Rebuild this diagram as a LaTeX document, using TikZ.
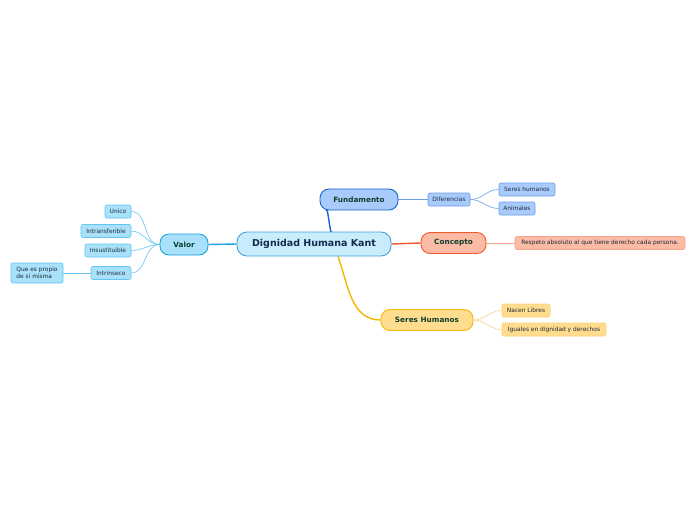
\documentclass[tikz,border=0pt]{standalone}
\usepackage{fontspec}
\setmainfont{DejaVu Sans}
\usetikzlibrary{calc,backgrounds}
\definecolor{cenfill}{HTML}{C8ECFC}
\definecolor{cendraw}{HTML}{3FA3DC}
\definecolor{centext}{HTML}{16294F}
\definecolor{maintext}{HTML}{0E3F2C}
\definecolor{leaftext}{HTML}{1E2A3A}
\definecolor{ffill}{HTML}{A8CBFB}
\definecolor{fdraw}{HTML}{1464D6}
\definecolor{flight}{HTML}{6A9DE6}
\definecolor{cfill}{HTML}{FBBBA5}
\definecolor{cdraw}{HTML}{F05A28}
\definecolor{clight}{HTML}{F5A48A}
\definecolor{sfill}{HTML}{FFDC8E}
\definecolor{sdraw}{HTML}{F6B700}
\definecolor{slight}{HTML}{FBD27A}
\definecolor{vfill}{HTML}{A9E1FA}
\definecolor{vdraw}{HTML}{1BA3DE}
\definecolor{vlight}{HTML}{62C6F0}
\tikzset{
  x=1pt, y=-1pt,
  mainbox/.style={rounded corners=9pt, line width=0.9pt, inner sep=0pt, minimum height=21pt,
    font=\fontsize{7.3}{8}\selectfont\bfseries, text=maintext},
  leafbox/.style={rounded corners=2pt, line width=0.6pt, inner sep=0pt, minimum height=13pt,
    font=\fontsize{5.9}{6.8}\selectfont, text=leaftext},
  mainline/.style={line width=1.4pt},
  leafline/.style={line width=0.6pt},
}
\begin{document}
\begin{tikzpicture}
\useasboundingbox (0,0) rectangle (696,520);

% central
\node[rounded corners=10pt, line width=0.9pt, fill=cenfill, draw=cendraw, minimum width=154pt, minimum height=24pt,
  inner sep=0pt, font=\fontsize{9.5}{10}\selectfont\bfseries, text=centext] (c) at (314,244) {Dignidad Humana Kant};

% main topics
\node[mainbox, fill=ffill, draw=fdraw, minimum width=78pt] (f) at (359,199.5) {Fundamento};
\node[mainbox, fill=cfill, draw=cdraw, minimum width=65pt] (k) at (453.5,243) {Concepto};
\node[mainbox, fill=sfill, draw=sdraw, minimum width=92pt] (s) at (427,320) {Seres Humanos};
\node[mainbox, fill=vfill, draw=vdraw, minimum width=48pt] (v) at (184,244.5) {Valor};

% leaves Fundamento
\node[leafbox, fill=ffill, draw=flight, minimum width=42pt] (dif) at (449,199.5) {Diferencias};
\node[leafbox, fill=ffill, draw=flight, minimum width=56pt] (sh) at (527,189.5) {Seres humanos};
\node[leafbox, fill=ffill, draw=flight, minimum width=36pt] (an) at (517,208.5) {Animales};

% leaf Concepto
\node[leafbox, fill=cfill, draw=clight, minimum width=170pt] (resp) at (600,243) {Respeto absoluto al que tiene derecho cada persona.};

% leaves Seres Humanos
\node[leafbox, fill=sfill, draw=slight, minimum width=48pt] (nac) at (526,310.5) {Nacen Libres};
\node[leafbox, fill=sfill, draw=slight, minimum width=104pt] (igu) at (554,329.5) {Iguales en dignidad y derechos};

% leaves Valor
\node[leafbox, fill=vfill, draw=vlight, minimum width=26pt] (uni) at (118,211.5) {Unico};
\node[leafbox, fill=vfill, draw=vlight, minimum width=50pt] (itr) at (106,231) {Intransferible};
\node[leafbox, fill=vfill, draw=vlight, minimum width=46pt] (ins) at (108,250.5) {Insustituible};
\node[leafbox, fill=vfill, draw=vlight, minimum width=40pt] (intr) at (111,273) {Intrinseco};
\node[leafbox, fill=vfill, draw=vlight, minimum width=52pt, minimum height=20pt, align=left] (que) at (37,273) {Que es propio\\de si misma};

\begin{scope}[on background layer]
\fill[white] (0,0) rectangle (696,520);
% main connectors
\draw[mainline, vdraw] (c.west) -- (v.east);
\draw[mainline, cdraw] (c.east) -- (k.west);
\draw[mainline, fdraw] ([xshift=18pt]c.north) to[out=-100,in=80] ([xshift=-33pt]f.south);
\draw[mainline, sdraw] ([xshift=24pt]c.south) to[out=-70,in=180] (s.west);

% leaf connectors
\draw[leafline, flight] (f.east) -- (dif.west);
\draw[leafline, flight] (dif.east) to[out=0,in=180] (sh.west);
\draw[leafline, flight] (dif.east) to[out=0,in=180] (an.west);
\draw[leafline, clight] (k.east) -- (resp.west);
\draw[leafline, slight] (s.east) to[out=0,in=180] (nac.west);
\draw[leafline, slight] (s.east) to[out=0,in=180] (igu.west);
\foreach \l in {uni,itr,ins,intr}
  \draw[leafline, vlight] (v.west) to[out=180,in=0] (\l.east);
\draw[leafline, vlight] (intr.west) -- (que.east);
\end{scope}
\end{tikzpicture}
\end{document}
